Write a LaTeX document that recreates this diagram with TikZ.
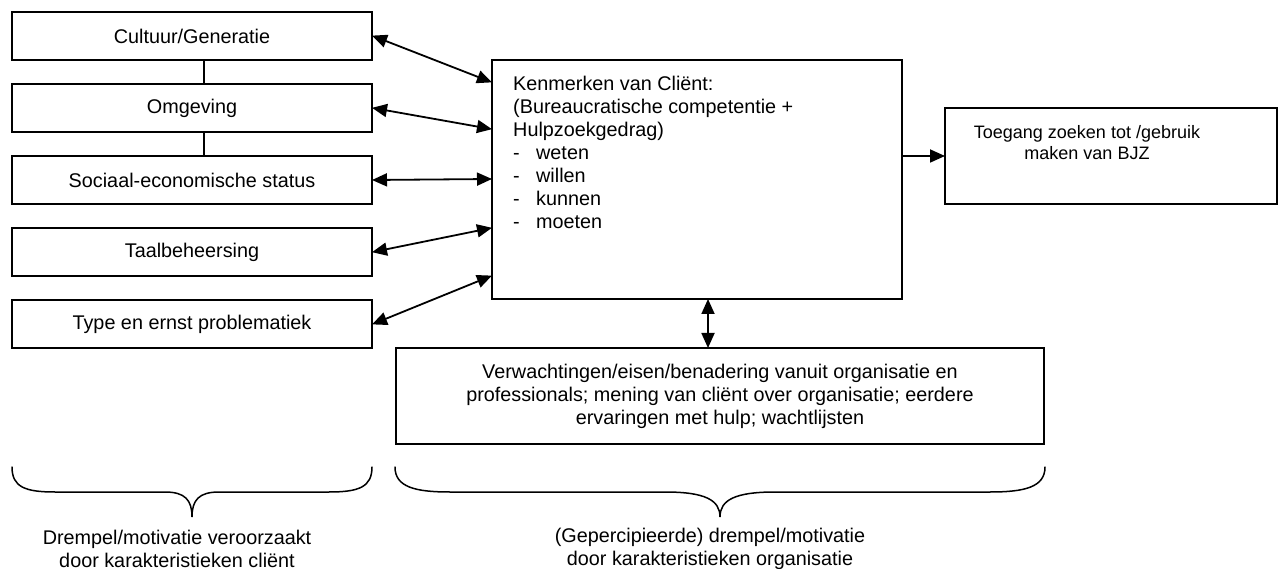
\documentclass[tikz,border=0pt]{standalone}
\usepackage{fontspec}
\setmainfont{Liberation Sans}
\usetikzlibrary{arrows.meta}
\begin{document}
\begin{tikzpicture}[x=1pt,y=-1pt,
  >={Triangle[length=15pt,width=13pt]},
  every node/.style={font=\fontsize{19.8pt}{23pt}\selectfont, inner sep=0pt},
  box/.style={draw, line width=2pt, rectangle},
  leftbox/.style={box, minimum width=360pt, minimum height=48pt},
  dbl/.style={line width=1.8pt, <->, shorten <=-1pt, shorten >=-1pt},
  arr/.style={line width=1.8pt, ->, shorten >=-1pt},
  link/.style={line width=1.8pt},
  bracepath/.style={line width=1.5pt, line cap=round}
]
\useasboundingbox (0,0) rectangle (1280,569);

% client factors on the left
\node[leftbox] (c1) at (192,36)  {Cultuur/Generatie};
\node[leftbox] (c2) at (192,108) {Omgeving};
\node[leftbox] (c3) at (192,180) {Sociaal-economische status};
\node[leftbox] (c4) at (192,252) {Taalbeheersing};
\node[leftbox] (c5) at (192,324) {Type en ernst problematiek};

\draw[link] ([xshift=12pt]c1.south) -- ([xshift=12pt]c2.north);
\draw[link] ([xshift=12pt]c2.south) -- ([xshift=12pt]c3.north);

% central box with client characteristics
\node[box, minimum width=410pt, minimum height=239pt] (k) at (697,179.5) {};
\node[anchor=north west, align=left] (ktext) at (513,75.5)
  {Kenmerken van Cliënt:\\
   (Bureaucratische competentie +\\
   Hulpzoekgedrag)\\
   \makebox[23pt][l]{-}weten\\
   \makebox[23pt][l]{-}willen\\
   \makebox[23pt][l]{-}kunnen\\
   \makebox[23pt][l]{-}moeten};

\draw[dbl] (c1.east) -- ([yshift=-23pt]k.north west);
\draw[dbl] (c2.east) -- ([yshift=-70pt]k.north west);
\draw[dbl] (c3.east) -- ([yshift=-120pt]k.north west);
\draw[dbl] (c4.east) -- ([yshift=-169pt]k.north west);
\draw[dbl] (c5.east) -- ([yshift=-217pt]k.north west);

% access to youth care
\node[box, minimum width=332pt, minimum height=96pt] (t) at (1111,156) {};
\node[align=center, font=\fontsize{18pt}{21pt}\selectfont] (ttext) at (1087,142.5)
  {Toegang zoeken tot /gebruik\\maken van BJZ};
\draw[arr] (k.east |- t.west) -- (t.west);

% organisation factors
\node[box, minimum width=648pt, minimum height=96pt, align=center] (b) at (720,396)
  {Verwachtingen/eisen/benadering vanuit organisatie en\\
   professionals; mening van cliënt over organisatie; eerdere\\
   ervaringen met hulp; wachtlijsten};
\draw[dbl] ([xshift=11pt]k.south) -- ([xshift=11pt]k.south |- b.north);

% braces
\draw[bracepath] (12,467) .. controls (12,487) and (25,492) .. (55,492)
  -- (165,492) .. controls (185,492) and (192,500) .. (192,517)
  .. controls (192,500) and (199,492) .. (219,492)
  -- (329,492) .. controls (359,492) and (372,487) .. (372,467);
\draw[bracepath] (395,467) .. controls (395,487) and (415,492) .. (450,492)
  -- (665,492) .. controls (705,492) and (720,500) .. (720,517)
  .. controls (720,500) and (735,492) .. (775,492)
  -- (990,492) .. controls (1025,492) and (1045,487) .. (1045,467);

\node[align=center] (l1) at (177,548.5)
  {Drempel/motivatie veroorzaakt\\door karakteristieken cliënt};
\node[align=center] (l2) at (710,548.5)
  {(Gepercipieerde) drempel/motivatie\\door karakteristieken organisatie};
\end{tikzpicture}
\end{document}
